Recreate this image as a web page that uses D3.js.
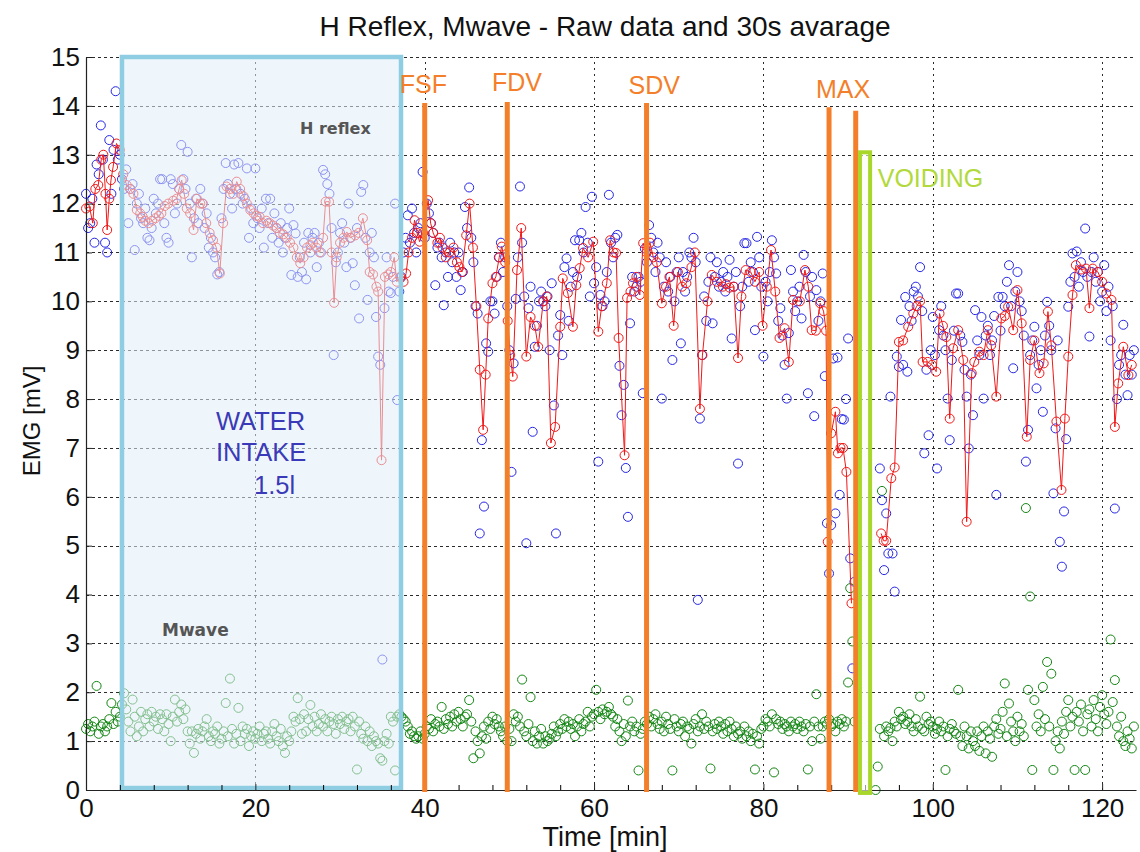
<!DOCTYPE html>
<html><head><meta charset="utf-8">
<script src="https://cdn.jsdelivr.net/npm/d3@7"></script>
<style>body{margin:0;background:#fff;} svg{display:block;}</style>
</head><body>
<svg id="chart" width="1140" height="852"></svg>
<script>
// ---------------- DATA ----------------
const chartTitle = "H Reflex, Mwave - Raw data and 30s avarage";
const xLabel = "Time [min]";
const yLabel = "EMG [mV]";
const xTicks = [0, 20, 40, 60, 80, 100, 120];
const xMinorTicks = [4,8,12,16,24,28,32,36,44,48,52,56,64,68,72,76,84,88,92,96,104,108,112,116];
const yTicks = [0,1,2,3,4,5,6,7,8,9,10,11,12,13,14,15];

// raw samples: one every 0.25 min starting at 0 (null = no recording)
const rawStart = 0, rawStep = 0.25;
const hReflexRaw = [
12.2,11.5,11.6,12.1, 11.2,12.8,12.6,13.6, 12.9,11.2,11.0,13.3, 12.2,13.1,14.3,12.9, 13.0,12.5,12.3,12.7,
11.6,12.3,12.4,11.05, 12.0,12.2,11.7,11.6, 11.9,11.3,11.25,11.5, 12.1,11.8,12.0,12.5, 12.5,11.6,11.3,11.2,
12.5,12.4,11.8,12.0, 12.3,13.2,12.5,12.3, 13.06,12.0,10.9,11.7, 12.1,11.6,12.3,12.0, 11.5,11.8,11.1,11.3,
11.0,10.9,10.55,10.6, 11.7,12.3,12.83,12.4, 12.2,11.9,12.8,12.3, 12.83,12.2,12.0,12.1, 12.72,11.3,11.9,11.6,
12.72,11.7,11.5,11.9, 11.1,12.1,11.6,12.1, 11.3,11.8,11.5,11.2, 11.6,11.0,11.3,11.5, 11.9,10.54,11.56,11.39,
10.5,10.9,10.6,11.2, 10.45,11.4,11.0,11.3, 11.4,10.7,11.2,11.0, 12.69,12.6,12.4,12.2, 11.5,8.9,10.8,11.0,
11.4,11.6,11.2,10.7, 12.0,11.3,10.78,10.33, 11.5,9.65,12.24,12.38, 11.3,10.03,11.0,11.4, 10.9,9.68,8.87,8.7,
2.67,9.86,10.9,10.2, 10.17,10.5,12.0,7.98, 10.2,10.5,11.0,11.3, 11.76,11.2,11.9,11.4, 11.0,11.5,11.6,12.65,
11.3,12.0,11.8,11.6, 11.4,10.33,11.1,11.2, 10.9,9.92,11.0,10.5, 11.2,10.8,11.0,10.5, 11.0,10.23,10.6,11.93,
11.5,12.33,11.3,10.8, 9.9,9.75,5.25,7.16, 5.8,9.14,8.97,10.0, 10.0,9.75,10.5,10.9, 11.2,10.6,10.9,9.9,
9.0,6.51,8.73,10.05, 10.9,12.35,11.2,10.1, 5.05,9.86,10.3,7.33, 9.07,9.5,10.0,10.2, 10.0,9.9,10.1,9.0,
10.37,7.87,5.25,9.3, 9.72,8.9,10.7,10.88, 9.6,10.3,10.6,11.25, 10.5,11.25,11.4,11.0, 11.93,11.2,10.1,12.14,
10.37,10.7,6.72,10.13, 9.9,10.0,10.6,12.18, 11.2,10.9,11.3,11.36, 8.68,7.67,8.29,6.59, 5.59,9.55,10.5,10.2,
10.3,10.5,10.4,8.12, 11.08,10.8,11.56,11.3, 11.0,10.6,11.2,10.9, 8.01,10.3,10.8,10.2, 10.5,8.8,10.0,10.6,
10.9,9.14,10.6,10.2, 10.5,11.0,10.9,11.3, 10.8,3.89,7.6,8.9, 10.1,9.6,10.4,10.9, 9.55,10.5,10.8,10.3,
10.4,10.6,10.2,10.5, 10.85,9.24,10.3,10.6, 6.68,9.9,10.3,11.19, 11.19,10.4,10.8,10.6, 9.41,11.32,10.9,10.3,
8.87,10.4,10.0,10.6, 11.25,10.9,10.57,9.6, 9.86,9.3,8.7,8.01, 9.35,10.64,10.2,9.8, 10.0,10.3,9.65,10.95,
10.6,8.12,10.1,10.5, 7.65,10.23,9.6,10.0, 10.57,8.47,5.46,4.43, 5.42,8.83,5.66,8.85, 6.04,7.59,7.58,8.0,
9.24,4.74,2.49,4.26, null,null,null,null, null,null,null,null, null,null,null,6.58, 5.93,4.5,5.66,4.84,
8.05,4.84,4.06,8.87, 8.66,9.62,8.7,10.09, 8.56,9.9,9.6,10.2, 10.3,10.1,10.7,9.8, 6.89,8.6,7.26,9.0,
9.68,8.9,6.58,9.41, 9.9,9.3,9.0,8.01, 7.16,8.8,9.4,10.16, 10.16,9.3,9.17,8.6, 8.05,6.99,8.5,7.67,
9.82,9.2,8.9,9.68, 8.01,9.3,9.5,8.9, 9.2,9.7,6.04,10.09, 9.4,10.09,9.9,10.4, 10.74,9.9,8.63,10.2,
10.6,10.0,9.8,9.3, 6.72,7.37,8.9,9.2, 9.48,8.22,8.7,9.0, 7.74,9.3,9.99,9.5, 9.0,6.07,7.4,9.2,
5.08,4.57,5.7,7.18, 9.89,10.4,10.98,10.5, 11.02,10.3,10.8,10.6, 11.49,10.5,9.28,10.6, 10.9,10.4,10.6,10.0,
10.2,10.74,9.8,10.3, 9.2,9.9,5.76,8.0, 8.7,8.9,9.52,8.5, 8.08,8.9,8.5,9.0
];
const mWaveRaw = [
1.25,1.35,1.2,1.3, 1.4,2.13,1.15,1.3, 1.35,1.2,1.3,1.45, 1.78,1.35,1.6,1.4, 1.5,1.75,1.98,1.65,
1.4,1.2,1.85,1.5, 1.1,1.3,1.6,1.2, 1.45,1.55,1.3,1.6, 1.4,1.5,1.25,1.55, 1.45,1.2,1.55,1.35,
1.0,1.5,1.85,1.4, 1.6,1.75,1.45,1.65, 1.2,0.95,1.2,0.76, 1.15,1.25,1.05,1.2, 1.3,1.45,1.1,1.0,
1.2,1.15,1.3,0.95, 1.05,1.2,1.78,1.1, 2.28,1.25,0.95,1.15, 1.68,1.0,1.3,1.15, 1.25,0.9,1.1,1.2,
1.05,1.15,1.3,1.0, 1.15,1.2,1.05,0.95, 1.2,1.35,1.1,1.0, 1.25,0.9,0.76,1.1, 1.0,1.2,1.5,1.4,
1.88,1.45,1.15,1.55, 1.2,1.45,1.74,1.3, 1.5,1.2,1.35,1.55, 1.3,1.45,1.2,1.4, 1.5,1.35,1.15,1.45,
1.35,1.5,1.25,1.4, 1.45,1.2,1.5,1.3, 0.42,1.4,1.15,1.05, 1.3,1.0,1.2,0.9, 1.1,1.0,0.95,0.65,
0.6,1.0,1.15,0.95, 1.5,1.4,0.4,1.5, 1.55,1.5,1.45,1.4, 1.3,1.15,1.2,1.1, 1.05,1.1,1.2,1.05,
1.15,1.3,1.25,1.45, 1.2,1.35,1.4,1.3, 1.7,1.25,1.45,1.35, 1.5,1.3,1.55,1.4, 1.6,1.45,1.3,1.5,
1.55,1.84,1.4,0.65, 1.2,1.0,0.75,1.1, 1.3,1.05,1.4,1.25, 1.5,1.35,1.45,1.3, 1.2,1.1,1.3,1.0,
1.25,1.0,1.55,1.4, 1.5,1.3,2.26,1.2, 1.1,1.35,1.9,1.0, 1.2,0.95,1.1,1.25, 0.95,1.1,1.0,1.05,
1.15,1.3,1.1,1.2, 1.35,1.25,1.45,1.3, 1.4,1.25,1.35,1.1, 1.3,1.45,1.2,1.35, 1.4,1.6,1.3,1.5,
1.55,2.05,1.6,1.45, 1.65,1.55,1.6,1.7, 1.55,1.5,1.3,1.45, 1.2,1.0,1.35,1.1, 1.83,1.3,1.4,1.2,
1.3,0.4,1.15,1.25, 1.4,1.35,1.5,1.3, 1.45,1.55,1.35,1.25, 1.4,1.2,1.5,1.35, 1.25,0.4,1.45,1.3,
1.2,1.35,1.4,1.1, 1.3,1.25,0.95,1.35, 1.45,1.2,1.3,1.55, 1.25,1.4,1.3,0.44, 1.2,1.35,1.25,1.4,
1.3,1.15,1.35,1.2, 1.4,1.25,1.1,1.3, 1.15,1.2,1.05,1.3, 1.1,1.2,1.0,1.15, 0.42,1.1,0.95,1.25,
1.3,1.45,1.4,1.3, 1.55,0.36,1.45,1.35, 1.4,1.25,1.35,1.3, 1.2,1.4,1.3,1.35, 1.25,1.4,1.3,1.2,
1.35,0.42,1.3,1.0, 1.4,1.96,1.3,1.05, 1.3,1.4,1.35,1.45, 1.3,1.35,1.2,1.4, 1.35,1.45,1.3,1.4,
2.2,4.13,3.04,1.4, null,null,null,null, null,null,null,null, null,0.0,0.48,1.25, 6.12,1.1,1.3,1.2,
1.27,1.0,1.4,1.3, 1.6,1.45,1.5,1.35, 1.4,1.55,1.3,1.2, 1.45,1.3,1.91,1.25, 1.2,1.5,1.35,1.4,
1.3,1.15,1.25,1.4, 1.2,1.3,0.41,1.1, 1.25,1.35,1.2,1.15, 2.05,1.1,0.9,1.3, 1.1,0.85,1.2,1.0,
0.9,1.2,0.8,1.1, 1.3,0.75,1.2,1.05, 0.68,1.3,1.45,1.15, 1.25,1.6,2.18,1.1, 1.77,1.4,1.2,1.0,
1.5,1.2,1.35,1.1, 5.77,2.05,3.96,0.41, 1.84,1.3,1.55,1.2, 2.11,1.45,2.62,1.3, 2.38,0.41,1.0,1.2,
0.85,1.4,1.15,1.6, 1.84,1.3,1.5,0.41, 1.6,1.4,1.75,1.2, 0.41,1.55,1.65,1.3, 1.84,1.45,1.2,1.7,
1.94,1.55,1.35,1.6, 3.08,1.8,2.25,1.3, 1.1,1.5,1.0,0.9, 1.2,1.05,0.85,1.3
];
// 30 s average of H reflex: [time (min), value (mV)]; null = gap (voiding)
const hReflexAvg = [
[0.0,11.9],[0.4,11.94],[0.8,11.6],[1.1,12.3],[1.45,12.38],[1.8,12.9],[2.05,13.0],[2.3,12.2],[2.5,11.46],[2.75,12.1],
[2.95,12.48],[3.2,12.75],[3.6,13.23],[4.0,13.1],[4.4,12.6],[4.8,12.38],[5.2,12.3],[5.6,12.2],[6.0,11.87],[6.4,11.8],
[6.7,11.73],[7.0,11.65],[7.4,11.6],[7.8,11.65],[8.2,11.7],[8.6,11.75],[8.9,11.8],[9.3,11.95],[9.7,12.0],[10.3,12.06],
[10.7,12.1],[11.0,12.3],[11.3,12.48],[11.6,12.2],[11.9,11.9],[12.3,11.8],[12.7,11.46],[13.1,12.1],[13.5,12.0],[13.8,12.0],
[14.2,11.6],[14.6,11.4],[15.0,11.25],[15.4,11.1],[15.8,10.57],[16.2,11.6],[16.6,12.35],[17.0,12.3],[17.4,12.2],[17.8,12.45],
[18.2,12.3],[18.6,12.15],[19.0,12.0],[19.4,11.87],[19.8,11.8],[20.1,11.75],[20.5,11.73],[20.9,11.6],[21.3,11.65],[21.7,11.6],
[22.1,11.55],[22.5,11.5],[22.9,11.4],[23.3,11.37],[23.7,11.3],[24.1,11.2],[24.5,11.1],[24.9,10.9],[25.3,10.78],[25.7,10.9],
[26.1,11.1],[26.5,11.15],[26.8,11.2],[27.2,11.1],[27.6,11.0],[28.0,11.3],[28.3,12.04],[28.7,12.04],[29.0,11.0],[29.3,9.97],
[29.6,10.9],[30.0,11.2],[30.4,11.3],[30.8,11.42],[31.2,11.3],[31.8,11.35],[32.2,11.4],[32.7,11.7],[33.2,11.25],[33.5,10.6],
[33.9,10.55],[34.3,10.3],[34.5,10.2],[34.9,6.75],[35.3,10.5],[35.7,10.55],[36.0,10.6],[36.4,10.9],[36.7,10.4],[37.1,10.5],
[37.5,10.4],[37.8,10.57],[38.1,11.0],[38.5,11.3],[38.8,11.66],[39.1,11.4],[39.4,11.22],[39.8,11.4],[40.4,12.07],[40.7,11.6],
[41.0,11.4],[41.5,11.2],[41.8,11.3],[42.1,11.1],[42.5,10.9],[42.9,11.0],[43.4,11.1],[43.8,10.8],[44.1,10.7],[44.4,10.6],
[44.9,11.35],[45.3,12.0],[45.7,11.1],[46.1,9.9],[46.5,8.6],[46.9,7.37],[47.2,8.5],[47.5,9.65],[48.0,10.37],[48.4,10.5],
[48.8,10.9],[49.1,11.12],[49.5,10.8],[49.8,9.6],[50.1,8.9],[50.4,8.46],[50.9,10.64],[51.4,11.5],[52.0,8.87],[52.5,9.68],
[53.0,9.5],[53.4,9.07],[54.0,10.0],[54.4,10.1],[54.9,7.1],[55.4,7.43],[56.0,9.48],[56.3,10.47],[56.9,10.17],[57.5,9.48],
[57.9,10.33],[58.3,10.68],[58.7,11.09],[59.3,10.9],[59.9,11.22],[60.5,9.38],[60.9,9.9],[61.5,10.37],[61.9,11.25],[62.3,11.0],
[62.6,10.99],[62.9,9.25],[63.6,6.85],[63.9,10.07],[64.3,10.2],[64.6,10.37],[65.0,10.5],[65.4,10.13],[65.8,11.19],[66.2,11.0],
[66.6,11.2],[67.0,10.9],[67.4,10.8],[68.0,9.96],[68.5,10.3],[68.9,10.5],[69.4,9.5],[69.9,10.6],[70.4,10.3],[70.9,10.37],
[71.5,10.7],[71.9,11.0],[72.5,7.8],[72.8,8.9],[73.4,10.0],[73.9,10.54],[74.5,10.4],[75.2,10.3],[75.6,10.35],[76.0,10.28],
[76.5,10.3],[77.0,8.84],[77.4,10.1],[77.9,10.64],[78.5,10.6],[79.0,10.4],[79.5,10.6],[79.9,9.5],[80.4,10.3],[80.9,11.05],
[81.4,10.2],[81.9,9.25],[82.5,9.45],[83.0,8.76],[83.5,10.03],[84.3,10.0],[84.9,10.64],[85.3,10.3],[85.7,9.41],[86.2,9.4],
[86.7,9.96],[87.1,9.8],[87.4,9.4],[87.6,5.08],[88.0,7.3],[88.5,7.74],[88.8,6.89],[89.1,7.0],[89.4,7.0],[89.8,6.51],
[90.4,3.82],[92.0,null],
[93.9,5.25],[94.2,5.1],[94.5,5.1],[95.1,6.38],[95.5,6.6],[96.0,9.17],[96.5,9.2],[97.1,9.48],[97.7,9.75],[98.1,9.9],
[98.5,10.0],[98.8,8.76],[99.4,8.76],[99.9,8.7],[100.4,8.56],[100.8,9.75],[101.2,9.5],[101.6,9.27],[102.0,7.6],[102.4,9.04],
[103.0,9.41],[103.6,8.8],[104.0,5.49],[104.6,8.53],[104.9,8.76],[105.5,8.97],[106.0,8.9],[106.5,9.41],[106.9,9.1],[107.5,8.05],
[108.1,9.65],[108.5,9.7],[108.9,9.89],[109.5,9.41],[110.0,10.23],[110.5,9.55],[111.1,7.23],[111.5,8.8],[112.0,9.2],[112.6,8.53],
[113.1,8.73],[113.6,9.79],[114.0,9.1],[114.6,7.54],[115.2,6.14],[115.6,7.6],[116.0,8.87],[116.5,10.13],[116.9,10.74],[117.5,10.65],
[118.1,10.67],[118.5,9.86],[118.9,10.67],[119.5,10.6],[120.0,10.4],[120.5,10.16],[121.1,10.03],[121.5,7.43],[121.9,8.32],[122.5,9.07],
[123.1,8.49],[123.5,8.7]
];
// protocol events
const waterIntake = [4.25, 37.2];          // min
const voiding = [91.4, 92.6];              // min
const eventTimes = [40.0, 49.75, 66.2, 87.75, 90.9];
const eventTops = [14.06, 14.08, 14.06, 13.97, 13.9];
const eventNames = ["FSF", "FDV", "SDV", "MAX"];

// ---------------- CHART ----------------
const svg = d3.select("#chart");
const x = d3.scaleLinear().domain([0, 124]).range([86, 1136]);
const y = d3.scaleLinear().domain([0, 15]).range([790, 57]);
const FONT = "'Liberation Sans', Arial, sans-serif";
const crisp = v => Math.round(v) + 0.5;

const raw = (arr) => arr.map((v, i) => ({t: rawStart + i * rawStep, v})).filter(d => d.v !== null);

// grid
const grid = svg.append("g");
grid.selectAll(".hg").data(yTicks.filter(d => d > 0)).join("line")
  .attr("x1", x(0)).attr("x2", x(124)).attr("y1", d => crisp(y(d))).attr("y2", d => crisp(y(d)))
  .attr("stroke", "#2a2a2a").attr("stroke-width", 1).attr("stroke-dasharray", "3,3");
grid.selectAll(".vg").data(xTicks.filter(d => d > 0)).join("line")
  .attr("x1", d => crisp(x(d))).attr("x2", d => crisp(x(d))).attr("y1", y(0)).attr("y2", y(15))
  .attr("stroke", "#2a2a2a").attr("stroke-width", 1).attr("stroke-dasharray", "2,4");

// Mwave raw
svg.append("g").selectAll("circle").data(raw(mWaveRaw)).join("circle")
  .attr("cx", d => x(d.t)).attr("cy", d => y(d.v)).attr("r", 4.5)
  .attr("fill", "none").attr("stroke", "#138613").attr("stroke-width", 1);
// H reflex raw
svg.append("g").selectAll("circle").data(raw(hReflexRaw)).join("circle")
  .attr("cx", d => x(d.t)).attr("cy", d => y(d.v)).attr("r", 4.5)
  .attr("fill", "none").attr("stroke", "#2525e6").attr("stroke-width", 1);
// 30 s average
const line = d3.line().defined(d => d[1] !== null).x(d => x(d[0])).y(d => y(d[1]));
svg.append("path").datum(hReflexAvg).attr("d", line)
  .attr("fill", "none").attr("stroke", "#f01818").attr("stroke-width", 1);
svg.append("g").selectAll("circle").data(hReflexAvg.filter(d => d[1] !== null)).join("circle")
  .attr("cx", d => x(d[0])).attr("cy", d => y(d[1])).attr("r", 4.5)
  .attr("fill", "none").attr("stroke", "#f01818").attr("stroke-width", 1);

// water intake overlay
svg.append("rect")
  .attr("x", x(waterIntake[0])).attr("y", y(15))
  .attr("width", x(waterIntake[1]) - x(waterIntake[0])).attr("height", y(0) - y(15) - 2)
  .attr("fill", "rgb(226,239,247)").attr("fill-opacity", 0.55)
  .attr("stroke", "#8fcde2").attr("stroke-width", 4.5);

// axes
const ax = svg.append("g").attr("transform", `translate(0,${y(0)})`)
  .call(d3.axisBottom(x).tickValues(xTicks).tickSize(-6).tickSizeOuter(0).tickPadding(9));
svg.append("g").attr("transform", `translate(0,${y(0)})`)
  .call(d3.axisBottom(x).tickValues(xMinorTicks).tickSize(-5).tickSizeOuter(0).tickFormat(""))
  .select(".domain").remove();
const ay = svg.append("g").attr("transform", `translate(${x(0)},0)`)
  .call(d3.axisLeft(y).tickValues(yTicks).tickSize(-6).tickSizeOuter(0).tickPadding(6));
[ax, ay].forEach(a => {
  a.selectAll("text").attr("font-family", FONT).attr("font-size", 26).attr("fill", "#111");
  a.selectAll("line,path").attr("stroke", "#222");
});
svg.selectAll(".domain").attr("stroke", "#222").attr("stroke-width", 1.2);

// event lines
svg.append("g").selectAll("line").data(eventTimes).join("line")
  .attr("x1", d => x(d)).attr("x2", d => x(d))
  .attr("y1", (d, i) => y(eventTops[i])).attr("y2", y(0) + 2)
  .attr("stroke", "#f47f2a").attr("stroke-width", 5);
const eventLabelPos = [[39.85, 14.27], [50.9, 14.3], [67.1, 14.25], [89.4, 14.16]];
svg.append("g").selectAll("text").data(eventNames).join("text")
  .attr("x", (d, i) => x(eventLabelPos[i][0])).attr("y", (d, i) => y(eventLabelPos[i][1]))
  .attr("text-anchor", "middle").attr("font-family", FONT).attr("font-size", 25)
  .attr("fill", "#f47f2a").text(d => d);

// voiding box
svg.append("rect")
  .attr("x", x(voiding[0])).attr("y", y(13.05))
  .attr("width", x(voiding[1]) - x(voiding[0])).attr("height", y(-0.06) - y(13.05))
  .attr("fill", "#fbfdf2").attr("fill-opacity", 0.6)
  .attr("stroke", "#a9d62b").attr("stroke-width", 4);
svg.append("text").attr("x", x(93.5)).attr("y", y(12.34))
  .attr("font-family", FONT).attr("font-size", 25).attr("fill", "#b2d93c").text("VOIDING");

// water intake text
const wt = svg.append("text").attr("font-family", FONT).attr("font-size", 25.5).attr("fill", "#3a3ab8");
wt.append("tspan").attr("x", 216).attr("y", 430).text("WATER");
wt.append("tspan").attr("x", 216).attr("y", 461).text("INTAKE");
wt.append("tspan").attr("x", 254).attr("y", 494).text("1.5l");

// series labels
svg.append("text").attr("x", 300).attr("y", 134).attr("font-family", "'DejaVu Sans', sans-serif")
  .attr("font-weight", "bold").attr("font-size", 16).attr("fill", "#555").text("H reflex");
svg.append("text").attr("x", 162).attr("y", 636).attr("font-family", "'DejaVu Sans', sans-serif")
  .attr("font-weight", "bold").attr("font-size", 17).attr("fill", "#555").text("Mwave");

// title & axis labels
svg.append("text").attr("x", 605).attr("y", 36).attr("text-anchor", "middle")
  .attr("font-family", FONT).attr("font-size", 28).attr("fill", "#111").text(chartTitle);
svg.append("text").attr("x", 605).attr("y", 846).attr("text-anchor", "middle")
  .attr("font-family", FONT).attr("font-size", 27).attr("fill", "#111").text(xLabel);
svg.append("text").attr("transform", "translate(40,421) rotate(-90)").attr("text-anchor", "middle")
  .attr("font-family", FONT).attr("font-size", 24).attr("fill", "#111").text(yLabel);
</script>
</body></html>
